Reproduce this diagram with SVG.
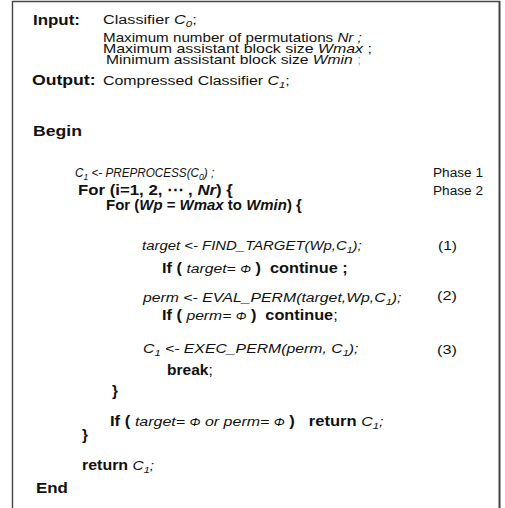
<svg xmlns="http://www.w3.org/2000/svg" width="505" height="508" viewBox="0 0 505 508">
<style>
text{font-family:"Liberation Sans",Arial,sans-serif;fill:#111}
.h{font-size:14px;font-weight:bold}
.r{font-size:13.5px}
.t{font-size:12.8px}
.b{font-size:14px;font-weight:bold}
.i{font-style:italic;font-weight:normal;font-size:13.5px}
.ti{font-style:italic}
.bi{font-style:italic;font-weight:bold}
.s{font-size:9.5px}
.f{font-size:11px;font-style:italic;font-weight:normal}
.n{font-weight:normal}
</style>
<rect width="505" height="508" fill="#fff"/>
<g id="frame" fill="none">
<line x1="12.5" y1="1.5" x2="500" y2="1.5" stroke="#444" stroke-width="1.3"/>
<line x1="12.5" y1="1" x2="12.5" y2="508" stroke="#444" stroke-width="1.4"/>
<line x1="499.5" y1="1" x2="499.5" y2="508" stroke="#444" stroke-width="2"/>
</g>
<g id="header">
<text class="h" transform="translate(33,25) scale(1.21,1)">Input:</text>
<text class="r" transform="translate(103,24) scale(1.2,1)">Classifier <tspan class="i">C</tspan><tspan class="i s" dy="3">0</tspan><tspan dy="-3">;</tspan></text>
<text class="t" transform="translate(103,41.5) scale(1.186,1)">Maximum number of permutations <tspan class="ti">Nr ;</tspan></text>
<text class="t" transform="translate(103,52.5) scale(1.245,1)">Maximum assistant block size <tspan class="ti">Wmax</tspan> ;</text>
<text class="t" transform="translate(106,64) scale(1.223,1)">Minimum assistant block size <tspan class="ti">Wmin</tspan> <tspan fill="#aaa">;</tspan></text>
<text class="h" transform="translate(32,85) scale(1.26,1)">Output:</text>
<text class="r" transform="translate(103,85) scale(1.18,1)">Compressed Classifier <tspan class="i">C</tspan><tspan class="i s" dy="3">1</tspan><tspan dy="-3">;</tspan></text>
<text class="h" transform="translate(33,136) scale(1.26,1)">Begin</text>
</g>
<g id="body">
<text class="i" style="font-size:13px" transform="translate(75,177) scale(0.9,1)">C<tspan class="s" dy="3">1</tspan><tspan dy="-3"> &lt;- PREPROCESS(C</tspan><tspan class="s" dy="3">0</tspan><tspan dy="-3">) ;</tspan></text>
<text class="r" transform="translate(433,177) scale(1.01,1)">Phase 1</text>
<text class="b" transform="translate(78,195) scale(1.2,1)">For (i=1, 2, ⋯ , <tspan class="bi">Nr</tspan>) {</text>
<text class="r" transform="translate(433,195) scale(1.01,1)">Phase 2</text>
<text class="b" transform="translate(106,210) scale(1.07,1)">For (<tspan class="bi">Wp</tspan> = <tspan class="bi">Wmax</tspan> to <tspan class="bi">Wmin</tspan>) {</text>
<text class="i" transform="translate(142,250) scale(1.105,1)">target &lt;- FIND_TARGET(Wp,C<tspan class="s" dy="3">1</tspan><tspan dy="-3">);</tspan></text>
<text class="r" transform="translate(438,250) scale(1.15,1)">(1)</text>
<text class="b" xml:space="preserve" transform="translate(162,273) scale(1.165,1)">If ( <tspan class="i">target= </tspan><tspan class="f">Φ</tspan> )  continue ;</text>
<text class="i" transform="translate(143,302) scale(1.17,1)">perm &lt;- EVAL_PERM(target,Wp,C<tspan class="s" dy="3">1</tspan><tspan dy="-3">);</tspan></text>
<text class="r" transform="translate(437,300) scale(1.2,1)">(2)</text>
<text class="b" xml:space="preserve" transform="translate(162,320) scale(1.163,1)">If ( <tspan class="i">perm= </tspan><tspan class="f">Φ</tspan> )  continue<tspan class="n">;</tspan></text>
<text class="i" transform="translate(143,353) scale(1.17,1)">C<tspan class="s" dy="3">1</tspan><tspan dy="-3"> &lt;- EXEC_PERM(perm, C</tspan><tspan class="s" dy="3">1</tspan><tspan dy="-3">);</tspan></text>
<text class="r" transform="translate(437,354) scale(1.2,1)">(3)</text>
<text class="b" transform="translate(167,375) scale(1.11,1)">break<tspan class="n">;</tspan></text>
<text class="b" transform="translate(112,396) scale(1.1,1)">}</text>
<text class="b" xml:space="preserve" transform="translate(110,426) scale(1.186,1)">If ( <tspan class="i">target= </tspan><tspan class="f">Φ</tspan><tspan class="i"> or perm= </tspan><tspan class="f">Φ</tspan> )   return <tspan class="i">C</tspan><tspan class="i s" dy="3">1</tspan><tspan class="i" dy="-3">;</tspan></text>
<text class="b" transform="translate(82,440) scale(1.1,1)">}</text>
<text class="b" transform="translate(82,470) scale(1.14,1)">return <tspan class="i">C</tspan><tspan class="i s" dy="3">1</tspan><tspan class="i" dy="-3">;</tspan></text>
<text class="h" transform="translate(36,493) scale(1.21,1)">End</text>
</g>
</svg>
